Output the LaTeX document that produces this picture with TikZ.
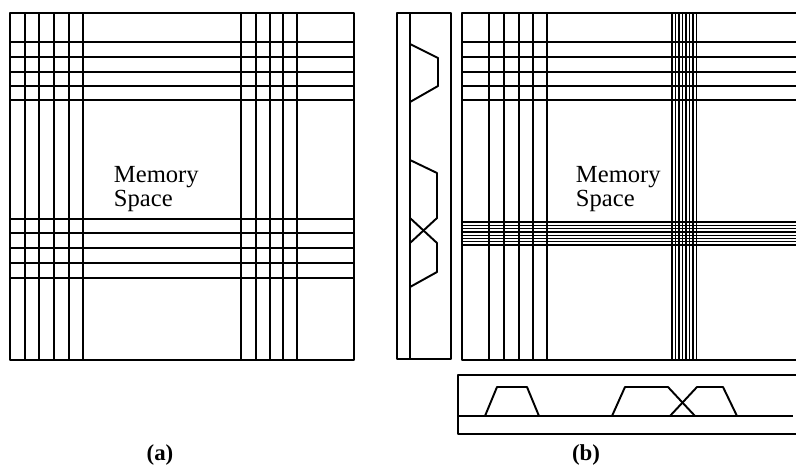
\documentclass[tikz,border=0pt]{standalone}
\usepackage{fontspec}
\setmainfont{Liberation Serif}
\begin{document}
\begin{tikzpicture}[x=0.02cm,y=-0.02cm,line width=1.1pt,line join=round,
  bundle/.style={line width=0.75pt},
  memtext/.style={anchor=west,align=left,inner sep=0pt,font=\fontsize{14}{13.7}\selectfont},
  caption/.style={font=\fontsize{13}{13}\selectfont\bfseries}]
\useasboundingbox (0,0) rectangle (796,471);
% (a)
\draw (10,13) rectangle (354,360);
\foreach \x in {25,39,54,69,83,241,256,270,283,297} \draw (\x,13)--(\x,360);
\foreach \y in {42,57,72,86,100,219,233,248,263,278} \draw (10,\y)--(354,\y);
\node[memtext] (mema) at (113,189) {Memory\\Space};
\node[caption] (capa) at (160,455) {(a)};
% (b) side strip
\draw (397,13) rectangle (451,359);
\draw (410,13)--(410,359);
\draw (410,44)--(438,58)--(438,86)--(410,102);
\draw (410,160)--(437,173)--(437,218)--(410,243);
\draw (410,218)--(437,243)--(437,272)--(410,287);
% (b) memory
\draw (796,13)--(462,13)--(462,360)--(796,360);
\foreach \x in {489,504,519,533,547} \draw (\x,13)--(\x,360);
\foreach \y in {42,57,72,86,100} \draw (462,\y)--(796,\y);
\foreach \i in {0,...,7}{
  \draw[bundle] (672+3.5*\i,13)--(672+3.5*\i,360);
  \draw[bundle] (462,222+3.3*\i)--(796,222+3.3*\i);}
\node[memtext] (memb) at (575,189) {Memory\\Space};
% (b) bottom strip
\draw (796,375)--(458,375)--(458,434)--(796,434);
\draw (457,416)--(793,416);
\draw (485,416)--(497,387)--(527,387)--(539,416);
\draw (612,416)--(625,387)--(668,387)--(695,416);
\draw (670,416)--(697,387)--(723,387)--(737,416);
\node[caption] (capb) at (586,455) {(b)};
\end{tikzpicture}
\end{document}
